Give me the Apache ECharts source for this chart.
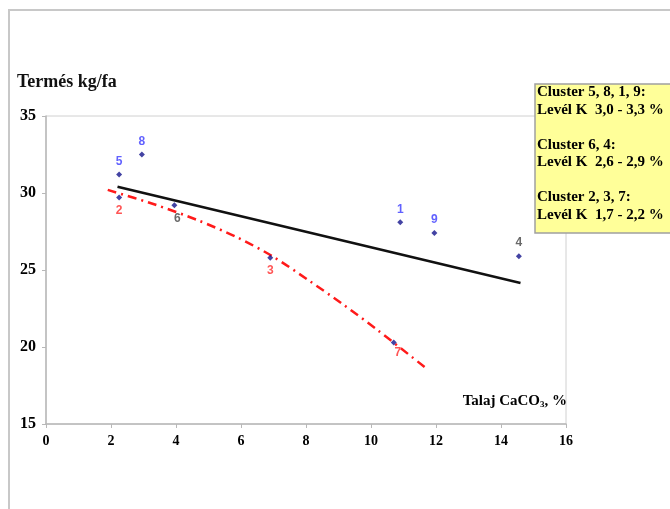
<!DOCTYPE html>
<html>
<head>
<meta charset="utf-8">
<script src="https://cdn.jsdelivr.net/npm/echarts@6/dist/echarts.min.js"></script>
<style>html,body{margin:0;padding:0;background:#fff;}#c{width:670px;height:509px;}</style>
</head>
<body>
<div id="c"></div>
<script>
// ---- data ----
var pointIds = ['5', '8', '2', '6', '3', '7', '1', '9', '4'];
var pointX   = [2.25, 2.95, 2.25, 3.95, 6.9, 10.7, 10.9, 11.95, 14.55];
var pointY   = [31.2, 32.5, 29.7, 29.2, 25.8, 20.3, 28.1, 27.4, 25.9];
var pointCluster = ['high', 'high', 'low', 'mid', 'low', 'low', 'high', 'high', 'mid'];
var linearTrendX = [2.2, 14.6];
var linearTrendY = [30.4, 24.15];
var curveTrendX = [1.9, 3.35, 4.65, 5.9, 7.0, 8.1, 9.15, 10.2, 11.65];
var curveTrendY = [30.2, 29.25, 28.25, 27.1, 25.85, 24.3, 22.75, 21.1, 18.7];
var xTicks = {min: 0, max: 16, interval: 2};
var yTicks = {min: 15, max: 35, interval: 5};
var yTitle = 'Termés kg/fa';
var legendLines = [
  ['Cluster ', '5, 8, 1, 9', ':'],
  ['Levél K  3,0 - 3,3 %'],
  [''],
  ['Cluster 6, 4:'],
  ['Levél K  2,6 - 2,9 %'],
  [''],
  ['Cluster ', '2, 3, 7', ':'],
  ['Levél K  1,7 - 2,2 %']
];

// ---- styles ----
var SERIF = '"Liberation Serif", "Times New Roman", serif';
var labelColor = {high: '#3a3aff', mid: '#444444', low: '#ff2a2a'};
var labelPos = {
  '5': {position: 'top'}, '8': {position: 'top'}, '1': {position: 'top'},
  '9': {position: 'top'}, '4': {position: 'top'},
  '2': {position: 'bottom'}, '3': {position: 'bottom'},
  '6': {position: 'bottom', offset: [3, 0]},
  '7': {position: 'bottom', offset: [4, -3]}
};

var scatterData = pointIds.map(function (id, i) {
  var lp = labelPos[id];
  return {
    value: [pointX[i], pointY[i]],
    name: id,
    label: {
      show: true,
      formatter: id,
      position: lp.position,
      distance: 4,
      offset: lp.offset || [0, 0],
      color: labelColor[pointCluster[i]],
      fontFamily: '"Liberation Sans", Arial, sans-serif',
      fontWeight: 'bold',
      fontSize: 12
    }
  };
});

var lin = linearTrendX.map(function (x, i) { return [x, linearTrendY[i]]; });
var curve = curveTrendX.map(function (x, i) { return [x, curveTrendY[i]]; });

var legendRich = {
  t: {fontFamily: SERIF, fontWeight: 'bold', fontSize: 15, color: '#1a1a1a', lineHeight: 17.5},
  b: {fontFamily: SERIF, fontWeight: 'bold', fontSize: 15, color: '#3a3aff', lineHeight: 17.5},
  r: {fontFamily: SERIF, fontWeight: 'bold', fontSize: 15, color: '#ff2a2a', lineHeight: 17.5}
};
var legendText = legendLines.map(function (parts, li) {
  if (parts.length === 1) return parts[0] === '' ? '{t| }' : '{t|' + parts[0] + '}';
  var hl = li < 3 ? 'b' : 'r';
  return '{t|' + parts[0] + '}{' + hl + '|' + parts[1] + '}{t|' + parts[2] + '}';
}).join('\n');

var chart = echarts.init(document.getElementById('c'), null, {renderer: 'canvas'});
chart.setOption({
  animation: false,
  backgroundColor: '#fff',
  grid: {left: 46, right: 104, top: 116, bottom: 85, show: true, borderColor: '#d0d0d0', borderWidth: 1},
  xAxis: {
    type: 'value', min: xTicks.min, max: xTicks.max, interval: xTicks.interval,
    axisLine: {show: true, lineStyle: {color: '#b8b8b8', width: 1.5}},
    axisTick: {show: true, length: 4, lineStyle: {color: '#b8b8b8'}},
    splitLine: {show: false},
    axisLabel: {color: '#000', fontFamily: SERIF, fontWeight: 'bold', fontSize: 14, margin: 10}
  },
  yAxis: {
    type: 'value', min: yTicks.min, max: yTicks.max, interval: yTicks.interval,
    axisLine: {show: true, lineStyle: {color: '#b8b8b8', width: 1.5}},
    axisTick: {show: true, length: 4, lineStyle: {color: '#b8b8b8'}},
    splitLine: {show: false},
    axisLabel: {color: '#000', fontFamily: SERIF, fontWeight: 'bold', fontSize: 16, margin: 10}
  },
  series: [
    {
      type: 'line', data: lin, symbol: 'none', z: 2,
      lineStyle: {color: '#111', width: 2.5}
    },
    {
      type: 'line', data: curve, symbol: 'none', smooth: 0.3, z: 2,
      lineStyle: {color: '#ff1a1a', width: 2.5, type: [9, 5, 2, 5]}
    },
    {
      type: 'scatter', data: scatterData, symbol: 'diamond', symbolSize: 6, z: 5,
      itemStyle: {color: '#14148c'}
    }
  ],
  graphic: [
    {type: 'line', shape: {x1: 8, y1: 10, x2: 670, y2: 10}, style: {stroke: '#c8c8c8', lineWidth: 2}},
    {type: 'line', shape: {x1: 9, y1: 10, x2: 9, y2: 509}, style: {stroke: '#c8c8c8', lineWidth: 2}},
    {type: 'text', left: 17, top: 73, style: {text: yTitle, font: 'bold 18px ' + SERIF, fill: '#111'}},
    {
      type: 'text', right: 103, top: 394,
      style: {
        text: '{a|Talaj CaCO}{s|3}{a|, %}',
        rich: {
          a: {fontFamily: SERIF, fontWeight: 'bold', fontSize: 15, color: '#222'},
          s: {fontFamily: SERIF, fontWeight: 'bold', fontSize: 9, color: '#222', verticalAlign: 'bottom', padding: [7, 0, 0, 0]}
        }
      }
    },
    {type: 'rect', shape: {x: 535, y: 84, width: 140, height: 149}, style: {fill: '#ffff99', stroke: '#a0a0a0', lineWidth: 1.5}, z: 10},
    {type: 'text', left: 537, top: 85, z: 11, style: {text: legendText, rich: legendRich}}
  ]
});
</script>
</body>
</html>
